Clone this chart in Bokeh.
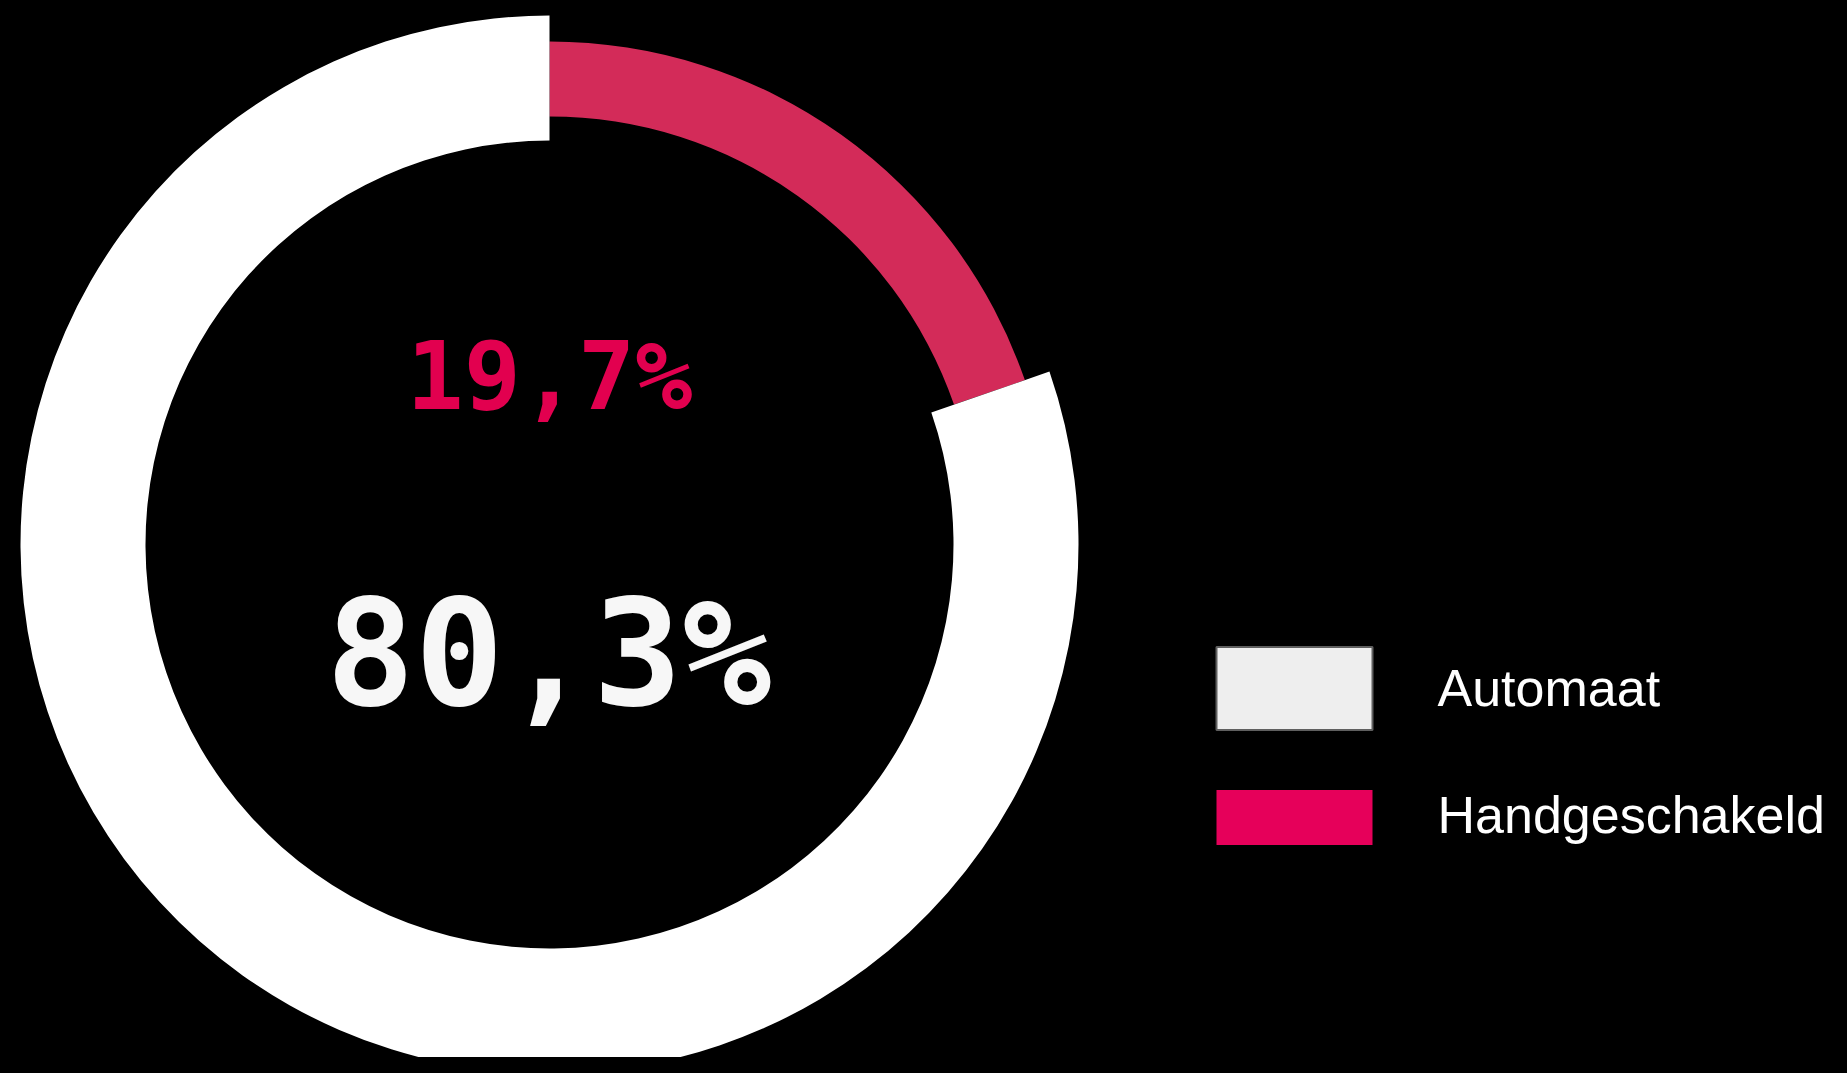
from bokeh.plotting import figure
from bokeh.models import ColumnDataSource, Range1d
from bokeh.core.properties import value
from bokeh.embed import file_html
from bokeh.resources import INLINE

# ---- data ----
categories = ["Handgeschakeld", "Automaat"]
shares = [19.7, 80.3]
legend_order = ["Automaat", "Handgeschakeld"]

# ---- styles ----
ring_colors = {"Handgeschakeld": "#D32B59", "Automaat": "#FFFFFF"}
ring_inner = {"Handgeschakeld": 428, "Automaat": 404}
ring_outer = {"Handgeschakeld": 503, "Automaat": 529}
label_colors = {"Handgeschakeld": "#E2004F", "Automaat": "#F7F7F7"}
label_sizes = {"Handgeschakeld": "95px", "Automaat": "148px"}
label_x = {"Handgeschakeld": 549, "Automaat": 548}
label_y = {"Handgeschakeld": 698, "Automaat": 420}
legend_fill = {"Automaat": "#EEEEEE", "Handgeschakeld": "#E6005A"}
legend_line = {"Automaat": "#5F5F5F", "Handgeschakeld": None}
legend_box_h = {"Automaat": 83, "Handgeschakeld": 55}
legend_box_y = {"Automaat": 385, "Handgeschakeld": 256}
legend_text_y = {"Automaat": 386, "Handgeschakeld": 259}

CX, CY = 549, 529
W, H = 1831, 1057

# angles: clockwise from 12 o'clock
starts, ends = [], []
cum = 0.0
for s in shares:
    ends.append(90 - cum * 3.6)
    cum += s
    starts.append(90 - cum * 3.6)

src = ColumnDataSource(dict(
    cat=categories,
    start=starts,
    end=ends,
    inner=[ring_inner[c] for c in categories],
    outer=[ring_outer[c] for c in categories],
    color=[ring_colors[c] for c in categories],
    x=[CX] * len(categories),
    y=[CY] * len(categories),
))

p = figure(width=W, height=H, x_range=Range1d(0, W), y_range=Range1d(1073 - H, 1073),
           output_backend="svg", toolbar_location=None, min_border=0)
p.background_fill_color = "#000000"
p.border_fill_color = "#000000"
p.outline_line_color = None
p.axis.visible = False
p.grid.visible = False

p.annular_wedge(x="x", y="y", inner_radius="inner", outer_radius="outer",
                start_angle="start", end_angle="end", start_angle_units="deg",
                end_angle_units="deg", direction="anticlock",
                fill_color="color", line_color=None, source=src)

# center labels
lab = ColumnDataSource(dict(
    x=[label_x[c] for c in categories],
    y=[label_y[c] for c in categories],
    text=[f"{s:.1f}".replace(".", ",") + "%" for s in shares],
    color=[label_colors[c] for c in categories],
    size=[label_sizes[c] for c in categories],
))
p.text(x="x", y="y", text="text", text_color="color", text_font_size="size",
       text_font=value("DejaVu Sans Mono"), text_font_style="bold",
       text_align="center", text_baseline="alphabetic", source=lab)

# legend
leg = ColumnDataSource(dict(
    x=[1294] * len(legend_order),
    y=[legend_box_y[c] for c in legend_order],
    h=[legend_box_h[c] for c in legend_order],
    fill=[legend_fill[c] for c in legend_order],
    line=[legend_line[c] for c in legend_order],
    tx=[1437] * len(legend_order),
    ty=[legend_text_y[c] for c in legend_order],
    label=legend_order,
))
p.rect(x="x", y="y", width=156, height="h", fill_color="fill", line_color="line",
       line_width=2, source=leg)
p.text(x="tx", y="ty", text="label", text_color="#FFFFFF", text_font_size="52px",
       text_font=value("Liberation Sans"), text_align="left", text_baseline="alphabetic",
       source=leg)

html = file_html(p, INLINE)
html = html.replace("<head>", "<head><style>html,body{background:#000000;}</style>", 1)
open("out.html", "w").write(html)
